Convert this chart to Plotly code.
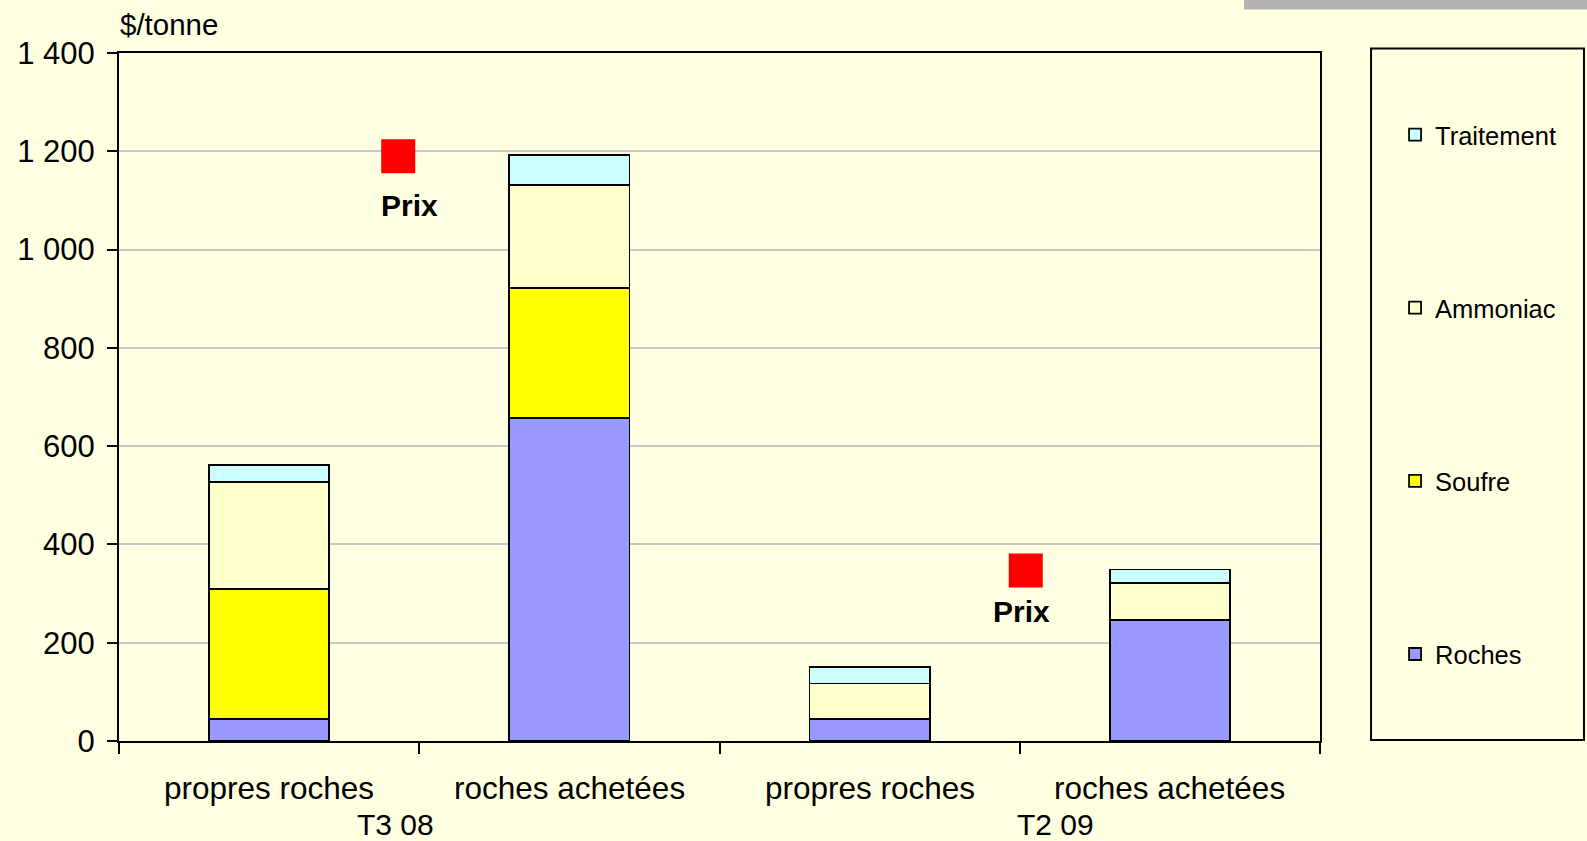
import plotly.graph_objects as go

# Coût de production par tonne, par composante
categories = ["propres roches", "roches achetées", "propres roches", "roches achetées"]
periods = ["T3 08", "T2 09"]

roches = [45, 657, 45, 247]
soufre = [264, 265, 0, 0]
ammoniac = [218, 210, 72, 74]
traitement = [34, 61, 34, 28]

prix = [1190, 347]
prix_pos = [0.43, 2.52]

y_ticks = [0, 200, 400, 600, 800, 1000, 1200, 1400]
y_tick_labels = ["0", "200", "400", "600", "800", "1 000", "1 200", "1 400"]

FONT = "Arial, Liberation Sans, sans-serif"
BG = "#FFFFE1"

x = list(range(len(categories)))

# (nom, valeurs, couleur, rang dans la légende)
series = [
    ("Roches", roches, "#9999FF", 4),
    ("Soufre", soufre, "#FFFF00", 3),
    ("Ammoniac", ammoniac, "#FFFFCC", 2),
    ("Traitement", traitement, "#CCFFFF", 1),
]

fig = go.Figure()
for name, vals, color, rank in series:
    fig.add_trace(go.Bar(
        x=x, y=vals, name=name, width=0.4,
        marker=dict(color=color, line=dict(color="black", width=1.8)),
        legendgroup=name, legendrank=rank,
    ))

fig.add_trace(go.Scatter(
    x=prix_pos, y=prix, mode="markers", showlegend=False,
    marker=dict(symbol="square", size=34, color="#FF0000", line=dict(width=0)),
    cliponaxis=False,
))

# Étiquettes "Prix" sous les repères
for px, py, tx, dy in zip(prix_pos, prix, [0.466, 2.507], [-49, -41]):
    fig.add_annotation(x=tx, y=py, xref="x", yref="y", text="<b>Prix</b>",
                       showarrow=False, yshift=dy, yanchor="middle",
                       font=dict(family=FONT, size=30, color="black"))

# Libellés de catégories et de périodes
for i, lab in enumerate(categories):
    fig.add_annotation(x=i, y=0, xref="x", yref="paper", text=lab,
                       showarrow=False, yanchor="middle", yshift=-47,
                       font=dict(family=FONT, size=31.5, color="black"))
for px, lab in zip([0.4225, 2.619], periods):
    fig.add_annotation(x=px, y=0, xref="x", yref="paper", text=lab,
                       showarrow=False, yanchor="middle", yshift=-83,
                       font=dict(family=FONT, size=30, color="black"))

fig.add_annotation(x=0, y=1, xref="paper", yref="paper", text="$/tonne",
                   showarrow=False, xanchor="left", yanchor="middle",
                   xshift=-1, yshift=29,
                   font=dict(family=FONT, size=29.5, color="black"))

# Cadre de la légende et bandeau gris
fig.add_shape(type="rect", xref="paper", yref="paper",
              x0=1.0425, x1=1.2198, y0=0.0015, y1=1.0067,
              line=dict(color="black", width=2), fillcolor="rgba(0,0,0,0)")
fig.add_shape(type="rect", xref="paper", yref="paper",
              x0=0.9367, x1=1.23, y0=1.0633, y1=1.09,
              line=dict(width=0), fillcolor="#B2B2B2")

fig.update_layout(
    width=1587, height=841,
    margin=dict(l=119, r=267, t=52.6, b=100),
    paper_bgcolor=BG, plot_bgcolor=BG,
    barmode="stack",
    font=dict(family=FONT, color="black"),
    showlegend=True,
    legend=dict(
        x=1.0625, y=0.915, xanchor="left", yanchor="top",
        traceorder="grouped", tracegroupgap=137,
        bgcolor="rgba(0,0,0,0)", borderwidth=0,
        font=dict(family=FONT, size=25.5, color="black"),
    ),
    xaxis=dict(
        range=[-0.5, 3.5], tickmode="array",
        tickvals=[-0.5, 0.5, 1.5, 2.5, 3.5], ticktext=["", "", "", "", ""],
        ticks="outside", ticklen=11, tickwidth=1.5, tickcolor="black",
        showline=True, linecolor="black", linewidth=2, mirror=True,
        showgrid=False, zeroline=False,
    ),
    yaxis=dict(
        range=[0, 1400], tickmode="array", tickvals=y_ticks, ticktext=y_tick_labels,
        ticks="outside", ticklen=10, tickwidth=1.5, tickcolor="black",
        showline=True, linecolor="black", linewidth=2, mirror=True,
        showgrid=True, gridcolor="#C8C8C8", gridwidth=1.5, zeroline=False,
        tickfont=dict(family=FONT, size=31, color="black"),
        ticklabelstandoff=6,
    ),
)

fig.write_html("out.html")
